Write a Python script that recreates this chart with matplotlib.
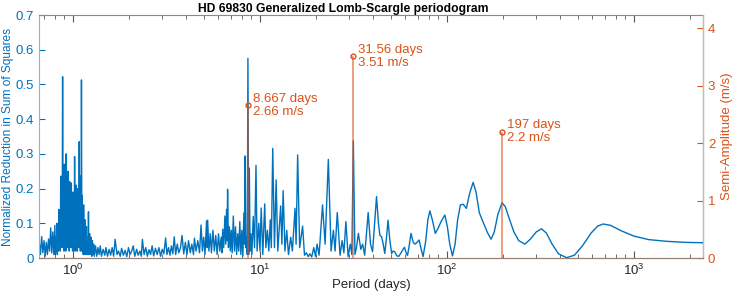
import numpy as np
import matplotlib.pyplot as plt
from matplotlib.ticker import LogLocator, NullFormatter

plt.rcParams['font.family'] = ['Liberation Sans', 'DejaVu Sans']

# periodogram, split by period range
burst_period = [0.66, 0.67, 0.68, 0.69, 0.70, 0.71, 0.72, 0.73, 0.74, 0.75,
                0.76, 0.77, 0.78, 0.79,
                0.800, 0.805, 0.810, 0.815, 0.820, 0.825, 0.830, 0.835, 0.840, 0.845,
                0.850, 0.855, 0.860, 0.865, 0.870, 0.875, 0.880, 0.885, 0.890, 0.895,
                0.900, 0.905, 0.910, 0.915, 0.920, 0.925, 0.930, 0.935, 0.940, 0.945,
                0.950, 0.955, 0.960, 0.965, 0.970, 0.975, 0.980, 0.985, 0.990, 0.995,
                1.000, 1.005, 1.010, 1.015, 1.020, 1.025, 1.030, 1.035, 1.040, 1.045,
                1.050, 1.055, 1.060, 1.065, 1.070, 1.075, 1.080, 1.085, 1.090, 1.095,
                1.100, 1.105, 1.110, 1.115, 1.120, 1.125, 1.130, 1.135, 1.140, 1.145,
                1.150, 1.155, 1.160, 1.165, 1.170, 1.175, 1.180, 1.185, 1.190, 1.195,
                1.200, 1.205, 1.210, 1.215,
                1.23, 1.24, 1.25, 1.26, 1.27, 1.28, 1.29, 1.30, 1.32, 1.34,
                1.36, 1.38, 1.40, 1.42, 1.45, 1.48]
burst_power = [0.045, 0.01, 0.062, 0.015, 0.05, 0.005, 0.045, 0.01, 0.055, 0.02,
               0.087, 0.015, 0.075, 0.01,
               0.094, 0.01, 0.06, 0.02, 0.10, 0.01, 0.07, 0.02, 0.14, 0.03,
               0.12, 0.02, 0.236, 0.04, 0.16, 0.03, 0.522, 0.05, 0.20, 0.02,
               0.27, 0.06, 0.18, 0.02, 0.30, 0.05, 0.21, 0.03, 0.25, 0.04,
               0.17, 0.02, 0.22, 0.05, 0.16, 0.03, 0.216, 0.04, 0.15, 0.02,
               0.19, 0.05, 0.14, 0.02, 0.292, 0.04, 0.17, 0.02, 0.21, 0.05,
               0.15, 0.02, 0.20, 0.04, 0.16, 0.03, 0.335, 0.05, 0.18, 0.02,
               0.236, 0.03, 0.513, 0.02, 0.18, 0.04, 0.12, 0.01, 0.153, 0.03,
               0.10, 0.01, 0.11, 0.02, 0.07, 0.01, 0.09, 0.02, 0.06, 0.01,
               0.05, 0.01, 0.133, 0.01,
               0.07, 0.01, 0.06, 0.005, 0.05, 0.01, 0.04, 0.005, 0.035, 0.005,
               0.03, 0.01, 0.035, 0.005, 0.025, 0.008]

low_period = [1.50, 1.53, 1.56, 1.59, 1.62, 1.65, 1.68, 1.72, 1.75, 1.79,
              1.82, 1.86, 1.90, 1.94, 1.98, 2.02, 2.06, 2.10, 2.14, 2.19,
              2.23, 2.28, 2.32, 2.35, 2.40, 2.45, 2.50, 2.55, 2.60, 2.65,
              2.70, 2.76, 2.82, 2.88, 2.94, 3.00, 3.06, 3.13, 3.18, 3.24,
              3.30, 3.36, 3.42, 3.48, 3.54, 3.61, 3.68, 3.76, 3.83, 3.91,
              3.99, 4.07, 4.15, 4.24, 4.32, 4.41, 4.46, 4.55, 4.65, 4.75,
              4.84, 4.92]
low_power = [0.03, 0.005, 0.025, 0.008, 0.03, 0.005, 0.054, 0.01, 0.02, 0.005,
             0.028, 0.008, 0.022, 0.004, 0.03, 0.01, 0.02, 0.035, 0.005, 0.025,
             0.008, 0.02, 0.005, 0.054, 0.01, 0.03, 0.005, 0.024, 0.01, 0.035,
             0.006, 0.028, 0.01, 0.03, 0.005, 0.025, 0.012, 0.058, 0.01, 0.03,
             0.008, 0.035, 0.012, 0.061, 0.01, 0.04, 0.015, 0.03, 0.065, 0.012,
             0.045, 0.01, 0.05, 0.015, 0.04, 0.01, 0.057, 0.02, 0.05, 0.015,
             0.095, 0.02]

mid_period = [5.00, 5.08, 5.18, 5.22, 5.25, 5.33, 5.42, 5.50, 5.60, 5.70,
              5.80, 5.90, 6.00, 6.10, 6.20, 6.26, 6.32, 6.40, 6.49, 6.56,
              6.63, 6.67, 6.71, 6.78, 6.86, 6.94, 7.02, 7.10, 7.20, 7.30,
              7.40, 7.50, 7.60, 7.70, 7.80, 7.90, 8.00, 8.10, 8.20, 8.27,
              8.33, 8.40, 8.48, 8.55, 8.62, 8.70, 8.77, 8.85, 8.95, 9.05,
              9.20, 9.35, 9.52, 9.65, 9.85, 10.0, 10.15, 10.35, 10.6, 10.75,
              10.95, 11.15, 11.35, 11.5, 11.7, 11.95, 12.2, 12.45, 12.9, 13.1,
              13.3, 13.6, 13.9, 14.2, 14.6, 14.9, 15.4, 15.6, 15.9, 16.3,
              16.9, 17.3, 17.7, 18.1, 18.5, 18.9, 19.4, 19.8, 20.2, 20.7,
              21.6, 22.3, 23.2, 24.0, 24.7, 25.2, 25.9, 26.8, 27.5, 28.1,
              28.8, 29.6, 30.4, 31.0, 31.56, 32.2, 32.8, 33.6, 34.6, 35.4,
              36.3, 37.9, 39.0, 40.0]
mid_power = [0.06, 0.01, 0.107, 0.03, 0.109, 0.02, 0.07, 0.015, 0.08, 0.02,
             0.065, 0.01, 0.07, 0.02, 0.06, 0.015, 0.083, 0.03, 0.121, 0.04,
             0.14, 0.05, 0.198, 0.03, 0.09, 0.02, 0.08, 0.015, 0.121, 0.02,
             0.09, 0.01, 0.07, 0.02, 0.105, 0.01, 0.08, 0.005, 0.13, 0.04,
             0.294, 0.03, 0.06, 0.01, 0.575, 0.01, 0.259, 0.02, 0.07, 0.01,
             0.12, 0.03, 0.267, 0.02, 0.10, 0.02, 0.144, 0.01, 0.156, 0.03,
             0.08, 0.02, 0.11, 0.03, 0.316, 0.03, 0.225, 0.02, 0.15, 0.04,
             0.194, 0.02, 0.08, 0.01, 0.06, 0.02, 0.143, 0.04, 0.297, 0.03,
             0.092, 0.008, 0.015, 0.004, 0.012, 0.003, 0.03, 0.005, 0.04, 0.008,
             0.153, 0.04, 0.284, 0.02, 0.08, 0.02, 0.131, 0.008, 0.05, 0.015,
             0.105, 0.004, 0.04, 0.01, 0.338, 0.01, 0.03, 0.071, 0.025, 0.04,
             0.008, 0.131, 0.04, 0.018]

long_period = [41.0, 42.0, 43.0, 43.8, 44.7, 45.6, 46.5, 47.5, 48.4, 49.5,
               50.6, 51.5, 52.5, 54.0, 55.3, 57.2, 59.2, 60.5, 61.5, 63.0,
               64.2, 66.0, 67.5, 69.2, 71.0, 72.8, 74.5, 77.0, 79.0, 81.0,
               83.5, 86.6, 89.5, 93.0, 97.4, 100.5, 103.5, 107.0, 110.5, 114.0,
               118.0, 122.0, 127.0, 132.0, 138.0, 143.0, 149.0, 157.0, 164.0, 172.0,
               179.0, 187.0, 197.0, 205.0, 215.0, 228.0, 242.0, 261.0, 280.0, 300.0,
               320.0, 340.0, 365.0, 395.0, 436.0, 480.0, 530.0, 590.0, 640.0, 685.0,
               750.0, 850.0, 1000.0, 1200.0, 1500.0, 1900.0, 2340.0]
long_power = [0.10, 0.177, 0.10, 0.065, 0.061, 0.04, 0.013, 0.06, 0.109, 0.05,
              0.013, 0.02, 0.018, 0.006, 0.005, 0.018, 0.031, 0.015, 0.007, 0.04,
              0.071, 0.045, 0.04, 0.045, 0.052, 0.025, 0.004, 0.05, 0.11, 0.136,
              0.11, 0.071, 0.085, 0.105, 0.124, 0.09, 0.04, 0.006, 0.04, 0.11,
              0.153, 0.155, 0.143, 0.185, 0.218, 0.19, 0.13, 0.10, 0.075, 0.054,
              0.075, 0.125, 0.159, 0.148, 0.114, 0.075, 0.05, 0.040, 0.055, 0.075,
              0.084, 0.072, 0.04, 0.012, 0.001, 0.008, 0.035, 0.072, 0.092, 0.098,
              0.094, 0.079, 0.063, 0.053, 0.048, 0.045, 0.044]

# significant signals
peak_period = [8.667, 31.56, 197]
peak_amp = [2.66, 3.51, 2.2]

blue = '#0072BD'
orange = '#D95319'

period = burst_period + low_period + mid_period + long_period
power = burst_power + low_power + mid_power + long_power

fig = plt.figure(figsize=(7.33, 2.92), dpi=100)
ax = fig.add_axes([0.0532, 0.1164, 0.9059, 0.8322])
ax.plot(period, power, color=blue, lw=1.0)
ax.set_xscale('log')
ax.set_xlim(0.658, 2340)
ax.set_ylim(0, 0.7)
ax.set_yticks(np.arange(0, 0.71, 0.1))
ax.set_yticklabels(['0', '0.1', '0.2', '0.3', '0.4', '0.5', '0.6', '0.7'])
ax.xaxis.set_minor_locator(LogLocator(base=10, subs=np.arange(2, 10)))
ax.xaxis.set_minor_formatter(NullFormatter())
ax.tick_params(axis='x', which='both', direction='in', top=True, colors='#555555',
               labelcolor='#262626', labelsize=9.5)
ax.tick_params(axis='x', which='major', length=5)
ax.tick_params(axis='x', which='minor', length=3)
ax.tick_params(axis='y', direction='in', colors=blue, labelsize=9.5, length=4)
ax.set_xlabel('Period (days)', fontsize=9.5, color='#262626', labelpad=1)
ax.set_ylabel('Normalized Reduction in Sum of Squares', fontsize=8.6, color=blue, labelpad=1)
ax.set_title('HD 69830 Generalized Lomb-Scargle periodogram', fontsize=8.7, fontweight='bold',
             x=0.458, pad=2.5)
for s in ['top', 'bottom']:
    ax.spines[s].set_color('#8a8a8a')
ax.spines['left'].set_color('#80b8de')

ax2 = ax.twinx()
ax2.set_ylim(0, 4.23)
ax2.set_yticks([0, 1, 2, 3, 4])
ax2.tick_params(axis='y', direction='in', colors=orange, labelsize=9.5, length=4)
ax2.set_ylabel('Semi-Amplitude (m/s)', fontsize=9.5, color=orange, labelpad=4)
ax2.spines['right'].set_color('#eeaa8c')
ax2.spines['left'].set_visible(False)
ax2.spines['bottom'].set_color('#9a7f70')
ax2.spines['top'].set_visible(False)

ax2.vlines(peak_period, 0, peak_amp, color=orange, lw=1.1, alpha=0.7)
ax2.plot(peak_period, peak_amp, 'o', ms=3.5, mfc='none', mec=orange, mew=1.0)
for p, a in zip(peak_period, peak_amp):
    ax2.annotate(f'{p:.4g} days\n{a:.3g} m/s', (p, a), xytext=(3.5, 0),
                 textcoords='offset points', va='center', ha='left',
                 color=orange, fontsize=9.5, linespacing=1.15)

fig.savefig('out.png', dpi=100)
